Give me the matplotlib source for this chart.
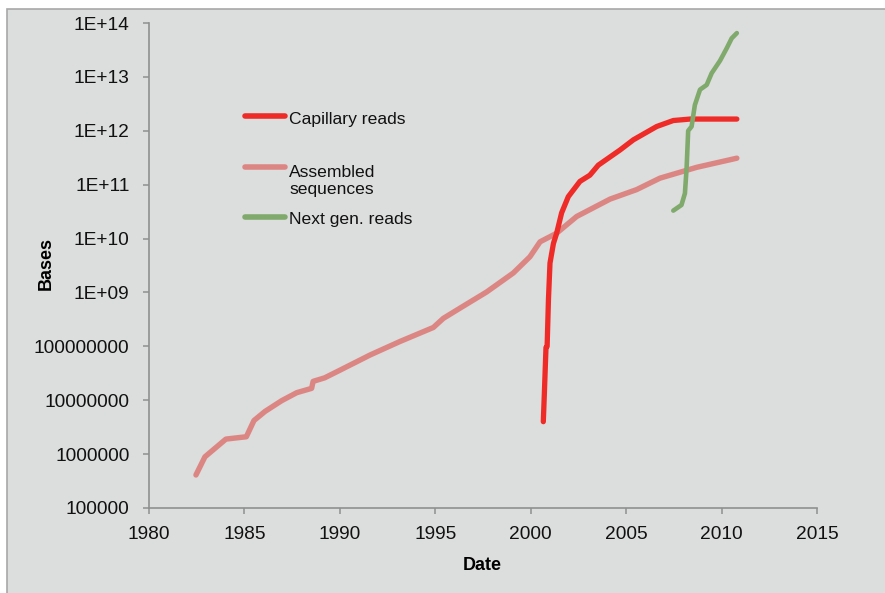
import numpy as np
import matplotlib
matplotlib.use('Agg')
import matplotlib.pyplot as plt
from matplotlib.patches import Rectangle
from matplotlib.ticker import FixedLocator, NullLocator

plt.rcParams['font.family'] = ['Liberation Sans', 'DejaVu Sans']

# Assembled sequences (pink)
asm_years = [1982.46, 1982.93, 1984.03, 1985.10, 1985.50, 1986.08, 1986.95, 1987.74,
             1988.52, 1988.60, 1989.20, 1990.00, 1991.58, 1993.15, 1994.90, 1995.42,
             1996.29, 1997.69, 1999.09, 1999.96, 2000.49, 2001.19, 2001.36, 2002.41,
             2004.16, 2005.55, 2006.77, 2008.70, 2010.80]
asm_bases = [4.1e5, 8.9e5, 1.9e6, 2.1e6, 4.2e6, 6.2e6, 9.8e6, 1.38e7,
             1.66e7, 2.24e7, 2.6e7, 3.6e7, 6.9e7, 1.23e8, 2.24e8, 3.3e8,
             5.1e8, 1.02e9, 2.3e9, 4.6e9, 8.7e9, 1.17e10, 1.26e10, 2.57e10,
             5.4e10, 8.1e10, 1.32e11, 2.1e11, 3.1e11]

# Capillary reads (red)
cap_years = [2000.66, 2000.72, 2000.80, 2000.86, 2000.93, 2001.01, 2001.19, 2001.36,
             2001.62, 2001.97, 2002.58, 2003.10, 2003.54, 2004.68, 2005.38, 2006.60,
             2007.47, 2008.35, 2010.80]
cap_bases = [4.0e6, 1.5e7, 9.5e7, 1.0e8, 7.5e8, 3.5e9, 8.1e9, 1.26e10,
             3.0e10, 6.0e10, 1.15e11, 1.5e11, 2.3e11, 4.4e11, 6.8e11, 1.2e12,
             1.55e12, 1.65e12, 1.65e12]

# Next gen. reads (green)
ngs_years = [2007.47, 2007.90, 2008.08, 2008.17, 2008.25, 2008.43, 2008.60, 2008.87,
             2009.22, 2009.48, 2009.92, 2010.27, 2010.53, 2010.80]
ngs_bases = [3.3e10, 4.2e10, 6.9e10, 2.1e11, 1.0e12, 1.2e12, 3.0e12, 5.8e12,
             7.1e12, 1.17e13, 2.0e13, 3.4e13, 5.2e13, 6.5e13]

ytick_vals = [1e5, 1e6, 1e7, 1e8, 1e9, 1e10, 1e11, 1e12, 1e13, 1e14]
ytick_labels = ['100000', '1000000', '10000000', '100000000', '1E+09',
                '1E+10', '1E+11', '1E+12', '1E+13', '1E+14']
xtick_vals = [1980, 1985, 1990, 1995, 2000, 2005, 2010, 2015]

red = '#ef2b28'
pink = '#dc8683'
green = '#7faa6c'
axis_grey = '#8e9090'
bg = '#dcdddd'

fig = plt.figure(figsize=(8.85, 5.93), dpi=100)
fig.patch.set_facecolor('white')
fig.patches.append(Rectangle((7 / 885, -0.01), 1.0, (593 - 9) / 593 + 0.01,
                             transform=fig.transFigure, facecolor=bg,
                             edgecolor='#a8a8a8', linewidth=1.2, zorder=-10))

ax = fig.add_axes([149 / 885, (593 - 508) / 593, 668 / 885, 485 / 593])
ax.set_facecolor('none')

ax.plot(asm_years, asm_bases, color=pink, lw=3.9, solid_capstyle='round', solid_joinstyle='round')
ax.plot(cap_years, cap_bases, color=red, lw=3.8, solid_capstyle='round', solid_joinstyle='round')
ax.plot(ngs_years, ngs_bases, color=green, lw=3.3, solid_capstyle='round', solid_joinstyle='round')

ax.set_yscale('log')
ax.set_xlim(1980, 2015)
ax.set_ylim(1e5, 1e14)
ax.yaxis.set_major_locator(FixedLocator(ytick_vals))
ax.yaxis.set_minor_locator(NullLocator())
ax.set_yticklabels(ytick_labels)
ax.set_xticks(xtick_vals)
ax.set_xticklabels([str(v) for v in xtick_vals])

for s in ['top', 'right']:
    ax.spines[s].set_visible(False)
for s in ['left', 'bottom']:
    ax.spines[s].set_color(axis_grey)
    ax.spines[s].set_linewidth(1.2)
ax.tick_params(axis='both', direction='out', length=4, width=1.1, color=axis_grey,
               labelsize=13.8, labelcolor='#111111')
ax.tick_params(axis='y', pad=10)
ax.tick_params(axis='x', pad=9)

ax.set_xlabel('Date', fontsize=13, fontweight='bold')
ax.set_ylabel('Bases', fontsize=13, fontweight='bold')
ax.xaxis.set_label_coords(0.499, -0.100)
ax.yaxis.set_label_coords(-0.141, 0.505)

# legend drawn by hand, positioned like the original
leg = [('Capillary reads', red, 0.809, 0.802),
       ('Assembled\nsequences', pink, 0.7037, 0.674),
       ('Next gen. reads', green, 0.600, 0.594)]
for label, col, ly, ty in leg:
    ax.plot([0.1437, 0.2036], [ly, ly], color=col, lw=4, solid_capstyle='round',
            transform=ax.transAxes)
    ax.text(0.2096, ty, label, transform=ax.transAxes, fontsize=12.6, va='center',
            ha='left', color='#111111', linespacing=1.12)

fig.savefig('out.png', dpi=100, facecolor=fig.get_facecolor())
